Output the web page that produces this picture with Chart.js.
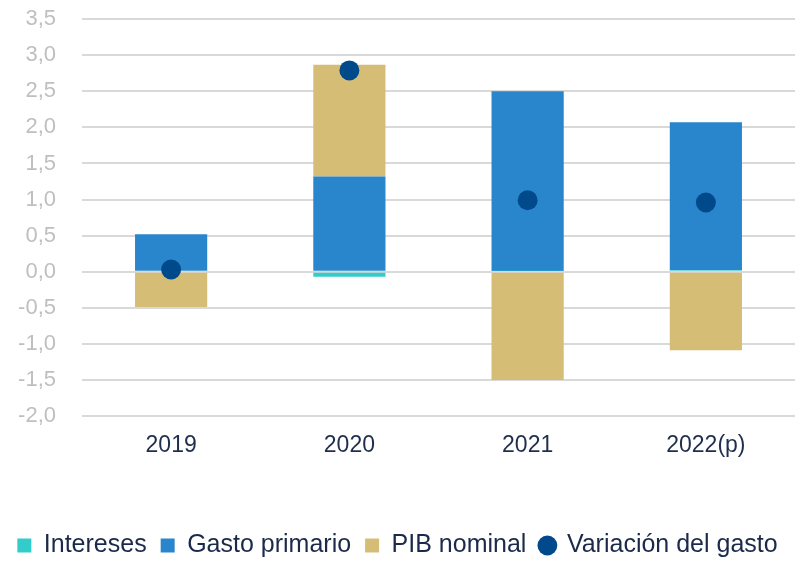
<!DOCTYPE html>
<html>
<head>
<meta charset="utf-8">
<script src="https://cdn.jsdelivr.net/npm/chart.js@4"></script>
<style>
  html, body { margin: 0; padding: 0; background: #fff; }
  #wrap { width: 809px; height: 561px; }
</style>
</head>
<body>
<div id="wrap"><canvas id="gastoChart"></canvas></div>
<script>
const years = ["2019", "2020", "2021", "2022(p)"];
const intereses = [0.0, -0.07, 0.01, 0.02];
const gastoPrimario = [0.52, 1.32, 2.49, 2.05];
const pibNominal = [-0.49, 1.55, -1.5, -1.09];
const variacionGasto = [0.03, 2.79, 0.99, 0.96];

const ctx = document.getElementById("gastoChart");

function fmt(v) {
  return v.toFixed(1).replace(".", ",");
}

function barSet(label, data, color) {
  return {
    label: label,
    data: data,
    backgroundColor: color,
    stack: "gasto",
    pointStyle: "rect",
    barPercentage: 0.81,
    categoryPercentage: 0.5,
    order: 1,
  };
}

function renderChart() {
  new Chart(ctx, {
    type: "bar",
    data: {
      labels: years,
      datasets: [
        barSet("Intereses", intereses, "#33cccc"),
        barSet("Gasto primario", gastoPrimario, "#2986cc"),
        barSet("PIB nominal", pibNominal, "#d6bd76"),
        {
          type: "line",
          label: "Variación del gasto",
          data: variacionGasto,
          stack: "puntos",
          showLine: false,
          pointStyle: "circle",
          pointRadius: 10,
          pointHoverRadius: 10,
          backgroundColor: "#004a8c",
          borderColor: "#004a8c",
          borderWidth: 0,
          order: 0,
        },
      ],
    },
    options: {
      responsive: true,
      maintainAspectRatio: false,
      animation: false,
      layout: { padding: { top: 0, left: 0, right: 14, bottom: -7 } },
      plugins: {
        tooltip: { enabled: false },
        legend: {
          position: "bottom",
          labels: {
            sort: (a, b) => a.datasetIndex - b.datasetIndex,
            usePointStyle: true,
            boxWidth: 14,
            boxHeight: 14,
            padding: 14,
            color: "#1b2a4a",
            font: { family: "Liberation Sans", size: 25 },
          },
        },
      },
      scales: {
        x: {
          stacked: true,
          grid: { display: false, drawTicks: false },
          border: { display: false },
          afterFit: (scale) => { scale.height = 103; },
          ticks: {
            color: "#1f2e4d",
            padding: 16,
            font: { family: "Liberation Sans", size: 23 },
          },
        },
        y: {
          stacked: true,
          min: -2,
          max: 3.5,
          border: { display: false },
          grid: {
            color: "#d9d9d9",
            lineWidth: 2,
            drawTicks: true,
            tickLength: 20,
            tickColor: "rgba(0,0,0,0)",
          },
          afterFit: (scale) => { scale.width = 82; },
          ticks: {
            stepSize: 0.5,
            color: "#bfbfbf",
            padding: 6,
            font: { family: "Liberation Sans", size: 22 },
            callback: (v) => fmt(v),
          },
        },
      },
    },
  });
}

renderChart();
</script>
</body>
</html>
